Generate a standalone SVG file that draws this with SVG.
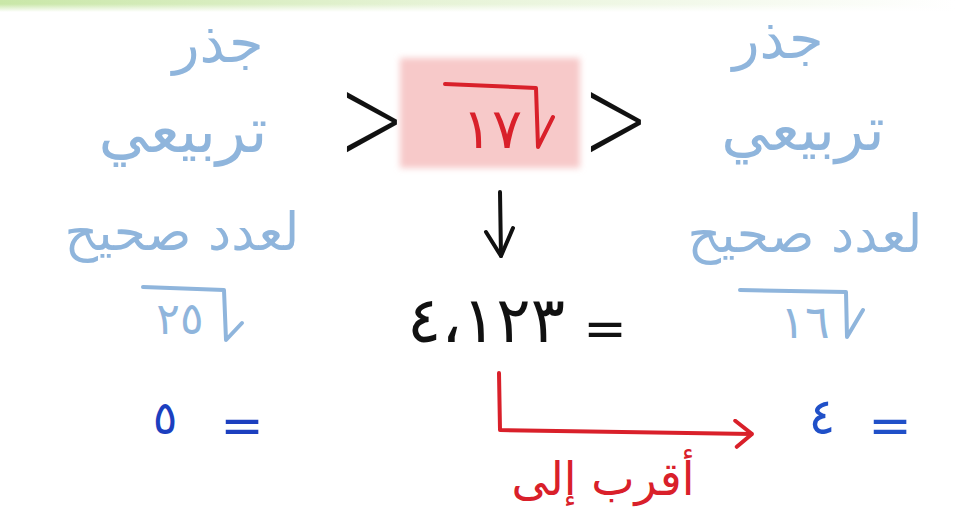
<svg xmlns="http://www.w3.org/2000/svg" width="955" height="518" viewBox="0 0 955 518">
<defs>
<linearGradient id="topg" x1="0" y1="0" x2="1" y2="0">
<stop offset="0" stop-color="#c9e7a8"/>
<stop offset="0.45" stop-color="#e6f3d6"/>
<stop offset="1" stop-color="#ffffff"/>
</linearGradient>
<linearGradient id="topv" x1="0" y1="0" x2="0" y2="1">
<stop offset="0" stop-color="#fff" stop-opacity="0"/>
<stop offset="1" stop-color="#fff" stop-opacity="1"/>
</linearGradient>
<filter id="soft" x="-10%" y="-10%" width="120%" height="120%"><feGaussianBlur stdDeviation="3"/></filter>
<marker id="redhead" viewBox="0 0 20 30" refX="19" refY="15" markerWidth="20" markerHeight="30" markerUnits="userSpaceOnUse" orient="auto">
<path d="M2,2 L19,15 L4,28" fill="none" stroke="#d9202a" stroke-width="4" stroke-linecap="round" stroke-linejoin="round"/>
</marker>
</defs>
<style>
text{font-family:"DejaVu Sans","Noto Sans",sans-serif;}
.lb{fill:#8fb5dc;}
.db{fill:#1c3fbf;}
.bl{fill:#2050c8;}
.bk{fill:#111;}
.rd{fill:#d9202a;}
.thin{font-weight:200;}
.stroke-lb{fill:none;stroke:#8fb5dc;stroke-width:4;stroke-linecap:round;stroke-linejoin:round;}
.stroke-rd{fill:none;stroke:#d9202a;stroke-width:4;stroke-linecap:round;stroke-linejoin:round;}
.stroke-bk{fill:none;stroke:#111;stroke-width:4;stroke-linecap:round;stroke-linejoin:round;}
</style>
<rect width="955" height="518" fill="#fff"/>
<rect x="0" y="0" width="955" height="12" fill="url(#topg)"/>
<rect x="0" y="4" width="955" height="8" fill="url(#topv)"/>

<g id="left-label">
<text class="lb" x="218" y="62" font-size="56" text-anchor="middle">جذر</text>
<text class="lb" x="183" y="152" font-size="62" text-anchor="middle">تربيعي</text>
<text class="lb" x="182" y="250" font-size="52" text-anchor="middle">لعدد صحيح</text>
</g>
<g id="left-root">
<path class="stroke-lb" d="M143,287 L224,290 L226,340 L242,323"/>
<text class="lb" x="180" y="334" font-size="44" text-anchor="middle">٢٥</text>
</g>
<g id="left-value">
<text class="db" x="165" y="434" font-size="46" text-anchor="middle">٥</text>
<text class="db" x="242" y="443" font-size="52" text-anchor="middle">=</text>
</g>

<g id="right-label">
<text class="lb" x="778" y="58" font-size="56" text-anchor="middle">جذر</text>
<text class="lb" x="803" y="150" font-size="60" text-anchor="middle">تربيعي</text>
<text class="lb" x="805" y="252" font-size="52" text-anchor="middle">لعدد صحيح</text>
</g>
<g id="right-root">
<path class="stroke-lb" d="M740,290 L846,292 L847,337 L863,310"/>
<text class="lb" x="805" y="338" font-size="46" text-anchor="middle">١٦</text>
</g>
<g id="right-value">
<text class="bl" x="822" y="434" font-size="50" text-anchor="middle">٤</text>
<text class="bl" x="890" y="443" font-size="52" text-anchor="middle">=</text>
</g>

<g id="center-root">
<rect x="400" y="58" width="180" height="110" fill="#f7c9c9" filter="url(#soft)"/>
<path class="stroke-rd" d="M445,84 L536,88 L538,147 L553,117"/>
<text class="rd" x="492" y="148" font-size="56" text-anchor="middle">١٧</text>
<text class="bk thin" x="372" y="150" font-size="84" text-anchor="middle" transform="translate(372,127) scale(0.95,1.45) translate(-372,-127)">&gt;</text>
<text class="bk thin" x="616" y="150" font-size="84" text-anchor="middle" transform="translate(616,127) scale(0.95,1.45) translate(-616,-127)">&gt;</text>
</g>

<g id="center-value">
<text class="bk" x="486" y="342" font-size="64" text-anchor="middle">٤،١٢٣</text>
<text class="bk" x="605" y="346" font-size="52" text-anchor="middle">=</text>
</g>

<g id="nearest-label">
<text class="rd" x="603" y="495" font-size="46" text-anchor="middle">أقرب إلى</text>
</g>

<g id="connectors">
<path class="stroke-bk" d="M500,192 L501,256"/>
<path class="stroke-bk" d="M486,232 L501,256 L513,228"/>
<path class="stroke-rd" d="M499,373 L500,430 L752,434" marker-end="url(#redhead)"/>
</g>
</svg>
